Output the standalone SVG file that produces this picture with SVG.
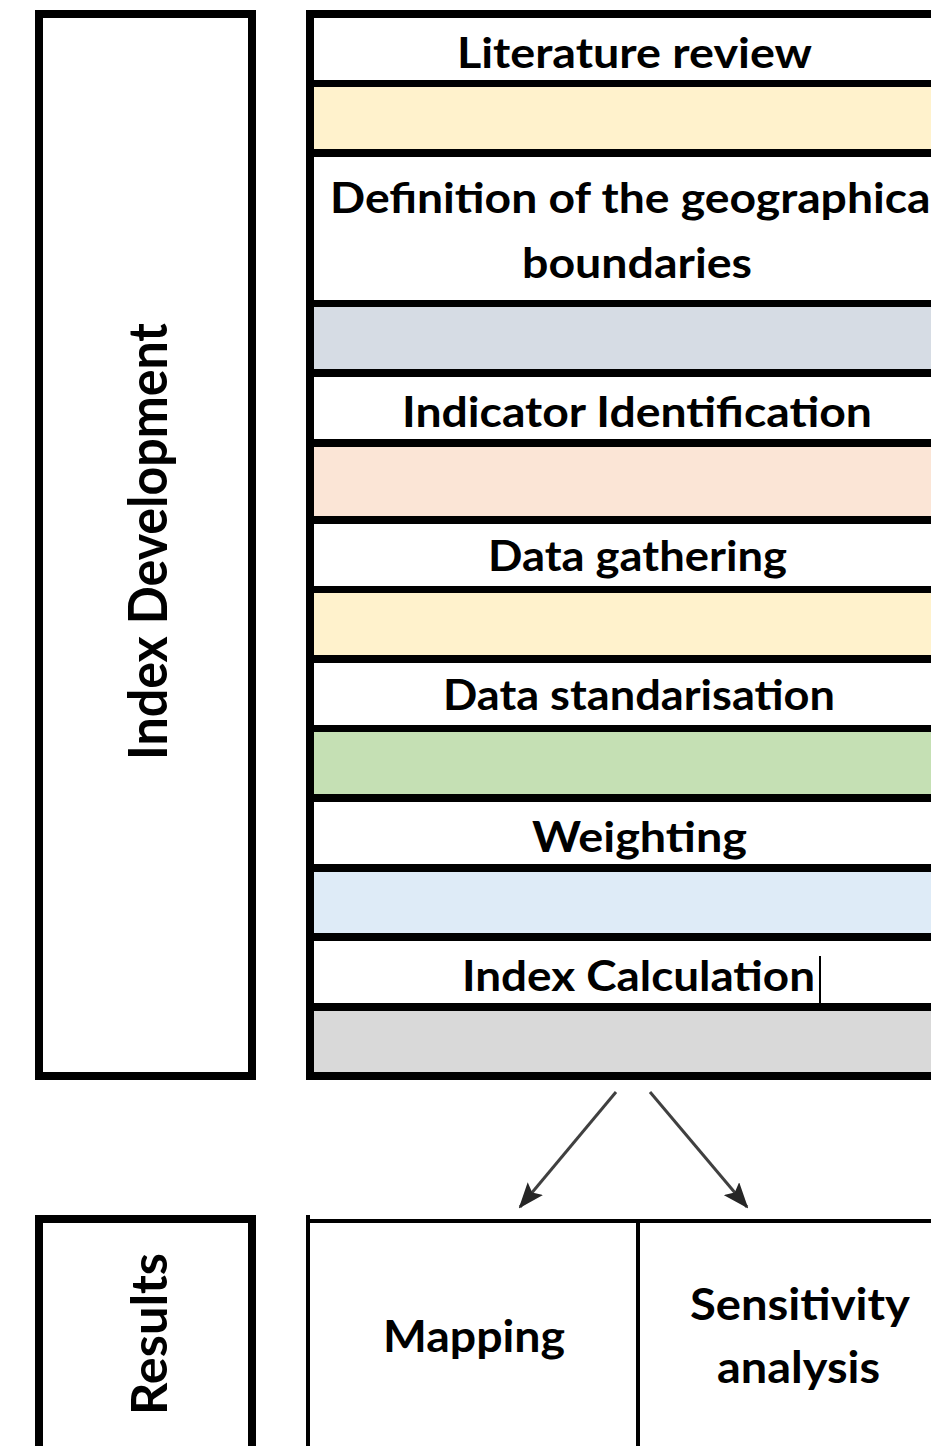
<svg xmlns="http://www.w3.org/2000/svg" width="931" height="1446" viewBox="0 0 931 1446">
<style>
.frame{fill:#fff;stroke:#000;stroke-width:8}
.sep{fill:#000}
.lbl{font-family:Lato,"Liberation Sans",sans-serif;font-weight:bold;font-size:42px;fill:#000}
.res{font-family:Lato,"Liberation Sans",sans-serif;font-weight:bold;font-size:44px;fill:#000}
.side{font-family:Lato,"Liberation Sans",sans-serif;font-weight:bold;fill:#000;text-anchor:middle}
.arrow{stroke:#404040;stroke-width:3;fill:none}
</style>
<defs>
<marker id="ah" viewBox="0 0 26 20" markerWidth="26" markerHeight="20" refX="24" refY="10" orient="auto" markerUnits="userSpaceOnUse">
<path d="M0,0 L26,10 L0,20 L5,10 z" fill="#262626"/>
</marker>
</defs>

<g id="index-development">
<rect class="frame" x="39" y="14" width="213" height="1062"/>
<text class="side" font-size="53" textLength="437" lengthAdjust="spacingAndGlyphs" transform="translate(167,541.5) rotate(-90)" x="0" y="0">Index Development</text>
</g>

<g id="steps">
<rect class="frame" x="310" y="14" width="700" height="1062"/>
<rect x="314" y="87" width="700" height="62" fill="#FFF2CC"/>
<rect x="314" y="307" width="700" height="62" fill="#D6DCE4"/>
<rect x="314" y="447" width="700" height="69" fill="#FBE5D6"/>
<rect x="314" y="593" width="700" height="62" fill="#FFF2CC"/>
<rect x="314" y="732" width="700" height="62" fill="#C5E0B4"/>
<rect x="314" y="872" width="700" height="61" fill="#DEEBF7"/>
<rect x="314" y="1011" width="700" height="61" fill="#D9D9D9"/>
<rect class="sep" x="306" y="80" width="700" height="7"/>
<rect class="sep" x="306" y="149" width="700" height="8"/>
<rect class="sep" x="306" y="300" width="700" height="7"/>
<rect class="sep" x="306" y="369" width="700" height="8"/>
<rect class="sep" x="306" y="439" width="700" height="8"/>
<rect class="sep" x="306" y="516" width="700" height="8"/>
<rect class="sep" x="306" y="586" width="700" height="7"/>
<rect class="sep" x="306" y="655" width="700" height="8"/>
<rect class="sep" x="306" y="725" width="700" height="7"/>
<rect class="sep" x="306" y="794" width="700" height="8"/>
<rect class="sep" x="306" y="864" width="700" height="8"/>
<rect class="sep" x="306" y="933" width="700" height="8"/>
<rect class="sep" x="306" y="1003" width="700" height="8"/>
</g>

<g id="literature-review"><text class="lbl" x="457" y="68" textLength="355" lengthAdjust="spacingAndGlyphs">Literature review</text></g>
<g id="geographical-boundaries">
<text class="lbl" x="330" y="213" textLength="612" lengthAdjust="spacingAndGlyphs">Definition of the geographical</text>
<text class="lbl" x="522" y="278" textLength="230" lengthAdjust="spacingAndGlyphs">boundaries</text>
</g>
<g id="indicator-identification"><text class="lbl" x="402" y="427" textLength="470" lengthAdjust="spacingAndGlyphs">Indicator Identification</text></g>
<g id="data-gathering"><text class="lbl" x="488" y="571" textLength="299" lengthAdjust="spacingAndGlyphs">Data gathering</text></g>
<g id="data-standarisation"><text class="lbl" x="443" y="710" textLength="392" lengthAdjust="spacingAndGlyphs">Data standarisation</text></g>
<g id="weighting"><text class="lbl" x="532" y="852" textLength="215" lengthAdjust="spacingAndGlyphs">Weighting</text></g>
<g id="index-calculation">
<text class="lbl" x="462" y="991" textLength="353" lengthAdjust="spacingAndGlyphs">Index Calculation</text>
<rect x="819" y="956" width="2" height="50" fill="#000"/>
</g>

<g id="connectors">
<line class="arrow" x1="616" y1="1092" x2="520" y2="1207" marker-end="url(#ah)"/>
<line class="arrow" x1="650" y1="1092" x2="747" y2="1207" marker-end="url(#ah)"/>
</g>

<g id="results">
<rect class="frame" x="39" y="1219" width="213" height="300"/>
<text class="side" font-size="50" textLength="162" lengthAdjust="spacingAndGlyphs" transform="translate(167,1334) rotate(-90)" x="0" y="0">Results</text>
</g>

<g id="results-table">
<rect class="sep" x="306" y="1219" width="700" height="4"/>
<rect class="sep" x="306" y="1215" width="4" height="240"/>
<rect class="sep" x="636" y="1221" width="4" height="230"/>
</g>
<g id="mapping"><text class="res" x="383" y="1352" textLength="182" lengthAdjust="spacingAndGlyphs">Mapping</text></g>
<g id="sensitivity-analysis">
<text class="res" x="690" y="1320" textLength="220" lengthAdjust="spacingAndGlyphs">Sensitivity</text>
<text class="res" x="717" y="1383" textLength="163" lengthAdjust="spacingAndGlyphs">analysis</text>
</g>
</svg>
